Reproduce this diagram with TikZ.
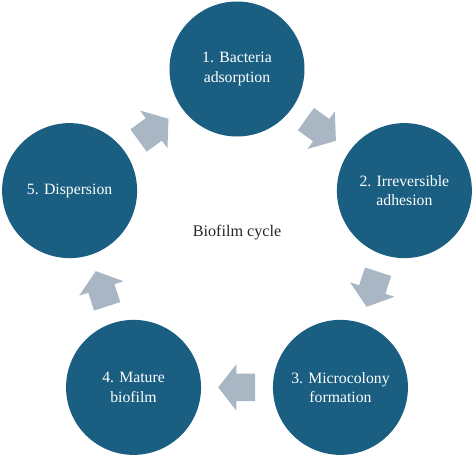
\documentclass[tikz,border=0pt]{standalone}
\usepackage{fontspec}
\setmainfont{Liberation Serif}
\usetikzlibrary{shapes.arrows,calc}

\definecolor{stageblue}{HTML}{1A5E82}
\definecolor{arrowgray}{HTML}{A9B6C3}

\begin{document}
\begin{tikzpicture}[
    stage/.style={circle, fill=stageblue, text=white, minimum size=3.375cm, inner sep=0pt,
        align=center, font=\fontsize{11.2}{13.7}\selectfont},
    cycle arrow/.style={single arrow, fill=arrowgray, inner xsep=0pt, inner ysep=0.3375cm,
        minimum height=0.925cm, minimum width=0pt, single arrow head extend=0.2375cm,
        single arrow tip angle=104, anchor=tail, rotate=#1}
]
\useasboundingbox (-5.925,-5.3) rectangle (5.9,6.125);

% Stages
\node[stage] (S1) at (90:4.4) {1. Bacteria\\adsorption};
\node[stage] (S2) at (18:4.4) {2. Irreversible\\adhesion};
\node[stage] (S3) at (-54:4.4) {3. Microcolony\\formation};
\node[stage] (S4) at (-126:4.4) {4. Mature\\biofilm};
\node[stage] (S5) at (162:4.4) {5. Dispersion};

% Title
\node[font=\fontsize{11.5}{13.7}\selectfont, text=black!85] (title) at (0,0.3) {Biofilm cycle};

% Arrows (tail placed half a length behind the midpoint)
\node[cycle arrow=36] (A51) at ($(126:3.56)+(216:0.4625)$) {};
\node[cycle arrow=-36] (A12) at ($(54:3.56)+(144:0.4625)$) {};
\node[cycle arrow=-108] (A23) at ($(-18:3.56)+(72:0.4625)$) {};
\node[cycle arrow=180] (A34) at ($(-90:3.56)+(0:0.4625)$) {};
\node[cycle arrow=108] (A45) at ($(-162:3.56)+(-72:0.4625)$) {};

\end{tikzpicture}
\end{document}
